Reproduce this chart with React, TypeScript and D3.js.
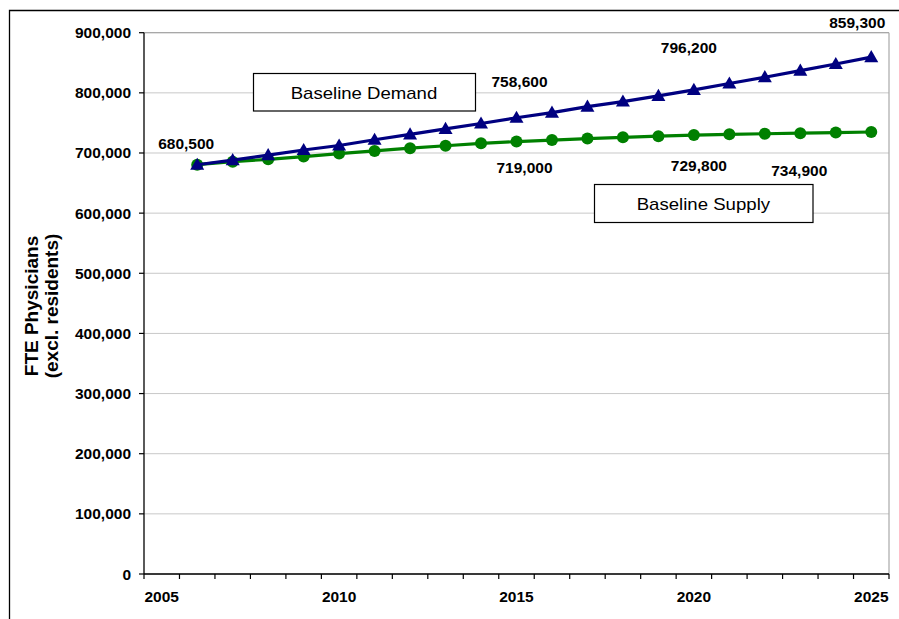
import React from "react";
import * as d3 from "d3";

const years = d3.range(2005, 2026);
const dataYears = d3.range(2006, 2026);
const demand = [680500, 688000, 696500, 705000, 712500, 722000, 731000, 740000, 749000, 758600, 767000, 777000, 785500, 795000, 805000, 815500, 826000, 837000, 848000, 859300];
const supply = [680500, 685500, 689500, 694000, 699000, 703500, 708000, 712000, 716000, 719000, 721500, 724000, 726000, 728000, 729800, 731000, 732000, 733000, 734000, 734900];
const yTicks = [0, 100000, 200000, 300000, 400000, 500000, 600000, 700000, 800000, 900000];
const xLabelYears = [2005, 2010, 2015, 2020, 2025];
const demandLabelYears = [2006, 2015, 2020, 2025];
const demandLabels = ["680,500", "758,600", "796,200", "859,300"];
const supplyLabelYears = [2015, 2020, 2025];
const supplyLabels = ["719,000", "729,800", "734,900"];
const seriesNames = ["Baseline Demand", "Baseline Supply"];
const axisTitle = ["FTE Physicians", "(excl. residents)"];

const W = 899, H = 619;
const left = 144, right = 889, top = 32.7, bottom = 574;
const FONT = "Arial, 'Liberation Sans', sans-serif";

export default function App() {
  const x = d3.scaleBand<number>().domain(years).range([left, right]).padding(0);
  const bw = x.bandwidth();
  const cx = (yr: number) => (x(yr) as number) + bw / 2;
  const y = d3.scaleLinear().domain([0, 900000]).range([bottom, top]);
  const fmt = d3.format(",");

  const line = d3.line<number>().x((_, i) => cx(dataYears[i])).y((d) => y(d));
  const tri = d3.symbol().type(d3.symbolTriangle).size(85)();

  const demandOffsets = [[-11, -15.5], [3, -31], [-5, -37], [-14, -29]];
  const supplyOffsets = [[8, 31.5], [5, 36], [-72, 44]];

  return (
    <svg width={W} height={H} style={{ position: "absolute", left: 0, top: 0, background: "#fff" }} fontFamily={FONT}>
      <rect x={0} y={0} width={W} height={H} fill="#fff" />
      <path d={`M9.5,${H + 2} V10.5 H${W + 2}`} fill="none" stroke="#000" strokeWidth={1.3} />
      {yTicks.map((t) => (
        <line key={t} x1={left} x2={right} y1={y(t)} y2={y(t)} stroke="#c8c8c8" strokeWidth={1} />
      ))}
      <line x1={right} x2={right} y1={top} y2={bottom} stroke="#a8a8a8" strokeWidth={1.2} />
      <line x1={left} x2={right} y1={top} y2={top} stroke="#a8a8a8" strokeWidth={1.2} />
      <line x1={left} x2={left} y1={top} y2={bottom} stroke="#000" strokeWidth={1.3} />
      {yTicks.map((t) => (
        <g key={t}>
          <line x1={left - 5} x2={left} y1={y(t)} y2={y(t)} stroke="#000" strokeWidth={1.2} />
          <text x={131} y={y(t) + 5.5} textAnchor="end" fontSize={15.5} fontWeight="bold" fill="#000">
            {fmt(t)}
          </text>
        </g>
      ))}
      <line x1={left} x2={right} y1={bottom} y2={bottom} stroke="#000" strokeWidth={1.3} />
      {[...years, 2026].map((yr) => {
        const xx = yr === 2026 ? right : (x(yr) as number);
        return <line key={yr} x1={xx} x2={xx} y1={bottom} y2={bottom + 5} stroke="#000" strokeWidth={1.2} />;
      })}
      {xLabelYears.map((yr) => (
        <text key={yr} x={cx(yr)} y={602} textAnchor="middle" fontSize={15.5} fontWeight="bold" fill="#000">
          {yr}
        </text>
      ))}
      <g transform="translate(0,306) rotate(-90)">
        <text x={0} y={38} textAnchor="middle" fontSize={19} fontWeight="bold" fill="#000">{axisTitle[0]}</text>
        <text x={0} y={58} textAnchor="middle" fontSize={19} fontWeight="bold" fill="#000">{axisTitle[1]}</text>
      </g>
      <path d={line(supply) as string} fill="none" stroke="#008000" strokeWidth={3.2} />
      {supply.map((v, i) => (
        <circle key={i} cx={cx(dataYears[i])} cy={y(v)} r={6} fill="#008000" />
      ))}
      <path d={line(demand) as string} fill="none" stroke="#000080" strokeWidth={3.2} />
      {demand.map((v, i) => (
        <path key={i} d={tri as string} transform={`translate(${cx(dataYears[i])},${y(v) + 1})`} fill="#000080" />
      ))}
      {demandLabelYears.map((yr, i) => {
        const v = demand[dataYears.indexOf(yr)];
        return (
          <text key={yr} x={cx(yr) + demandOffsets[i][0]} y={y(v) + demandOffsets[i][1]} textAnchor="middle" fontSize={15.5} fontWeight="bold" fill="#000">
            {demandLabels[i]}
          </text>
        );
      })}
      {supplyLabelYears.map((yr, i) => {
        const v = supply[dataYears.indexOf(yr)];
        return (
          <text key={yr} x={cx(yr) + supplyOffsets[i][0]} y={y(v) + supplyOffsets[i][1]} textAnchor="middle" fontSize={15.5} fontWeight="bold" fill="#000">
            {supplyLabels[i]}
          </text>
        );
      })}
      <rect x={253.5} y={73.5} width={222} height={37.5} fill="#fff" stroke="#000" strokeWidth={1.2} />
      <text x={364} y={98.5} textAnchor="middle" fontSize={17} textLength={146.6} lengthAdjust="spacingAndGlyphs" fill="#000">{seriesNames[0]}</text>
      <rect x={594.5} y={184.5} width={218.5} height={38} fill="#fff" stroke="#000" strokeWidth={1.2} />
      <text x={703.4} y={209.5} textAnchor="middle" fontSize={17} textLength={133.4} lengthAdjust="spacingAndGlyphs" fill="#000">{seriesNames[1]}</text>
    </svg>
  );
}
